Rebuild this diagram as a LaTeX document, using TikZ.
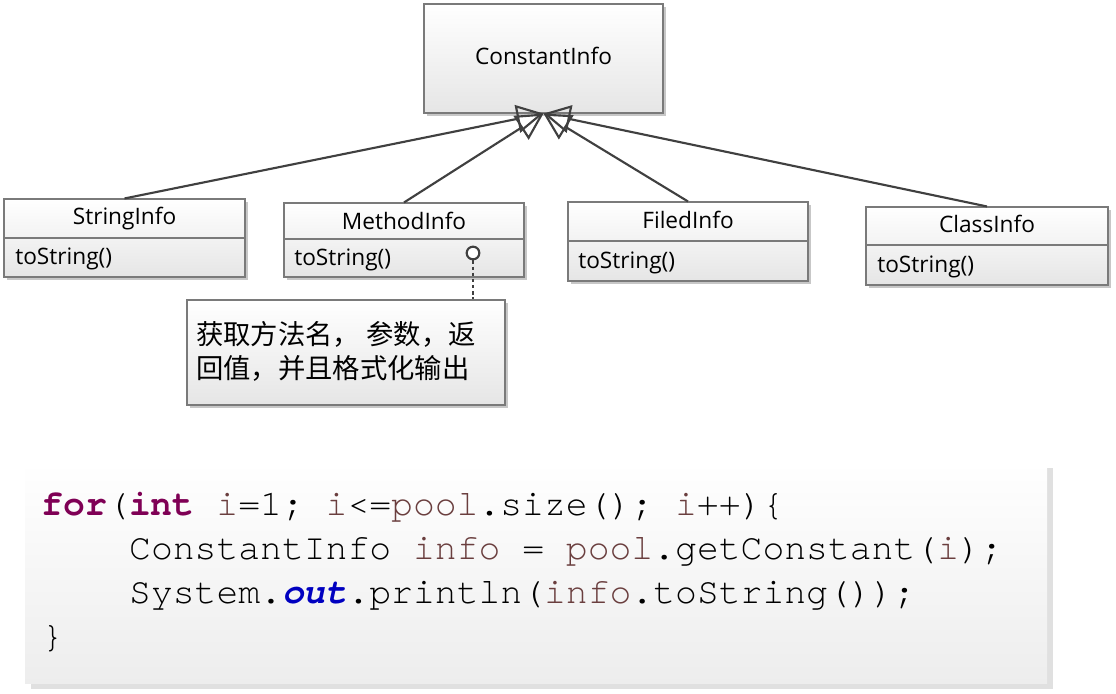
\documentclass[tikz,border=0pt]{standalone}
\usepackage{fontspec}
\setmainfont{Open Sans}
\newfontfamily\cjkfont{Noto Sans CJK SC}
\newfontfamily\codefont{texgyrecursor}[Extension=.otf,UprightFont=*-regular,BoldFont=*-bold,ItalicFont=*-italic,BoldItalicFont=*-bolditalic]
\usetikzlibrary{arrows.meta,shadows,fit}
\definecolor{kw}{HTML}{7F0055}
\definecolor{var}{HTML}{6A3E3E}
\definecolor{fld}{HTML}{0000C0}
\definecolor{edgecol}{HTML}{404040}
\definecolor{bordercol}{HTML}{7A7A7A}
\begin{document}
\begin{tikzpicture}[x=0.75pt,y=-0.75pt,
  umlbox/.style={top color=white,bottom color=black!10,draw=bordercol,line width=0.8pt,inner sep=0pt,
    drop shadow={shadow xshift=2.6pt,shadow yshift=-2.6pt,fill=black!22,opacity=1}},
  sepline/.style={draw=bordercol,line width=0.8pt},
  titletext/.style={font=\fontsize{17pt}{20pt}\selectfont,anchor=base,inner sep=0pt},
  methtext/.style={font=\fontsize{17pt}{20pt}\selectfont,anchor=base west,inner sep=0pt},
  inh/.style={draw=edgecol,line width=1.6pt,-{Triangle[open,length=20pt,width=21pt,line width=1.6pt]}},
  notetext/.style={font=\cjkfont\fontsize{20.5pt}{24pt}\selectfont,anchor=base west,inner sep=0pt},
  codetext/.style={font=\codefont\fontsize{27.3pt}{33pt}\selectfont,text=black,anchor=base west,inner sep=0pt},
  notelink/.style={draw=edgecol,line width=1.8pt,dash pattern=on 2.6pt off 2pt}]
\useasboundingbox (0,0) rectangle (1116,693);

% top class
\node[umlbox,fit={(424,4)(663,113)}] (cbox) {};
\node[titletext] (ctitle) at (543.5,64) {ConstantInfo};

% StringInfo
\node[umlbox,fit={(4,199)(245,277)}] (sbox) {};
\draw[sepline] (sbox.west |- 0,238) -- (sbox.east |- 0,238);
\node[titletext] (stitle) at (124.5,224) {StringInfo};
\node[methtext] (smeth) at (15,264) {toString()};

% MethodInfo
\node[umlbox,fit={(284,203)(524,277)}] (mbox) {};
\draw[sepline] (mbox.west |- 0,239) -- (mbox.east |- 0,239);
\node[titletext] (mtitle) at (404,229) {MethodInfo};
\node[methtext] (mmeth) at (294,265) {toString()};
\node[draw=edgecol,circle,line width=1.6pt,minimum size=9.5pt,inner sep=0pt,fill=white] (port) at (473,253) {};

% FiledInfo
\node[umlbox,fit={(568,202)(808,281)}] (fbox) {};
\draw[sepline] (fbox.west |- 0,241) -- (fbox.east |- 0,241);
\node[titletext] (ftitle) at (688,228) {FiledInfo};
\node[methtext] (fmeth) at (578,268) {toString()};

% ClassInfo
\node[umlbox,fit={(866,207)(1108,285)}] (kbox) {};
\draw[sepline] (kbox.west |- 0,245) -- (kbox.east |- 0,245);
\node[titletext] (ktitle) at (987,232) {ClassInfo};
\node[methtext] (kmeth) at (877,272) {toString()};

% generalisations
\draw[inh] (sbox.north) -- (cbox.south);
\draw[inh] (mbox.north) -- (cbox.south);
\draw[inh] (fbox.north) -- (cbox.south);
\draw[inh] (kbox.north) -- (cbox.south);

% note
\node[umlbox,fit={(187,300)(505,405)}] (note) {};
\draw[notelink] (port.south) -- (port |- note.north);
\node[notetext] (note1) at (196,344) {获取方法名， 参数，返};
\node[notetext] (note2) at (196,378) {回值，并且格式化输出};

% code
\node[fit={(25,462)(1047,683)},inner sep=0pt,top color=white,bottom color=black!7,
  drop shadow={shadow xshift=4.5pt,shadow yshift=-4.5pt,fill=black!12,opacity=1}] (codebox) {};
\node[codetext] (code1) at (41.5,515) {\textcolor{kw}{\textbf{for}}(\textcolor{kw}{\textbf{int}} \textcolor{var}{i}=1; \textcolor{var}{i}<=\textcolor{var}{pool}.size(); \textcolor{var}{i}++)\{};
\node[codetext] (code2) at (128.9,559) {ConstantInfo \textcolor{var}{info} = \textcolor{var}{pool}.getConstant(\textcolor{var}{i});};
\node[codetext] (code3) at (128.9,603) {System.\textcolor{fld}{\textbf{\textit{out}}}.println(\textcolor{var}{info}.toString());};
\node[codetext] (code4) at (41.5,647) {\}};
\end{tikzpicture}
\end{document}
